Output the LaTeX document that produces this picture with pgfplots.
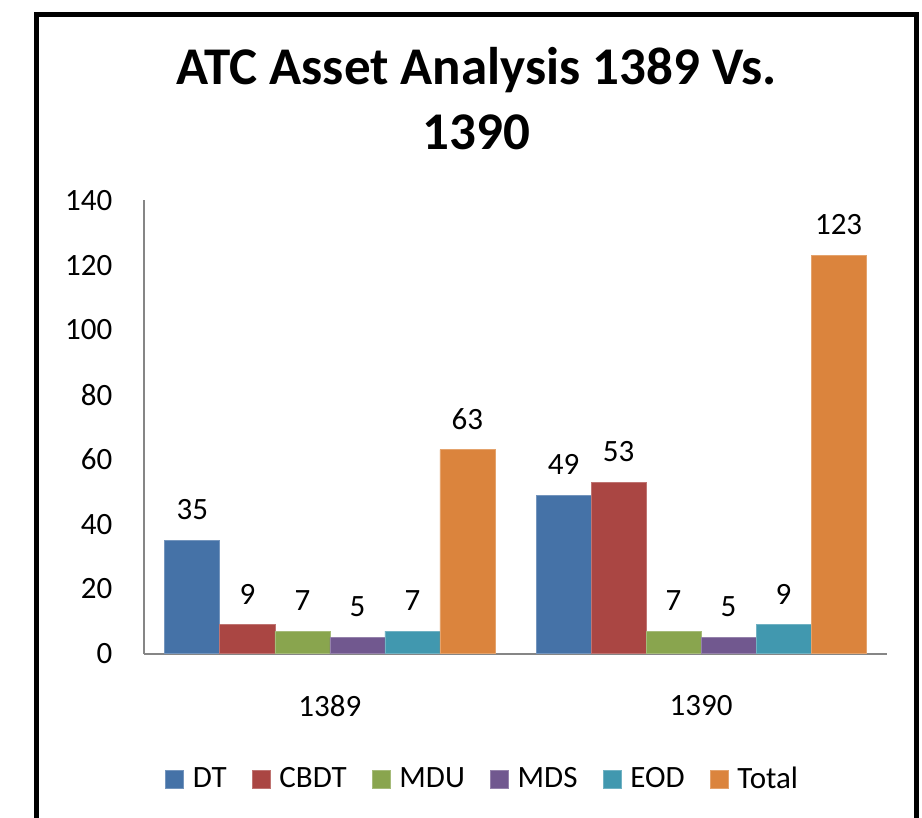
\documentclass[border=0pt]{standalone}
\usepackage{fontspec}
\setmainfont{Carlito}
\usepackage{pgfplots}
\pgfplotsset{compat=1.18}
\definecolor{cDT}{HTML}{4572A7}
\definecolor{cCBDT}{HTML}{AA4643}
\definecolor{cMDU}{HTML}{89A54E}
\definecolor{cMDS}{HTML}{71588F}
\definecolor{cEOD}{HTML}{4198AF}
\definecolor{cTot}{HTML}{DB843D}
\definecolor{axisgray}{RGB}{134,134,134}
\pgfplotsset{
  sqlegend/.style={legend image code/.code={\fill[##1] (0pt,-4.5pt) rectangle (9pt,4.5pt);}},
}
\begin{document}
\begin{tikzpicture}
\useasboundingbox (0,0) rectangle (461pt,-409pt);
\clip (0,0) rectangle (461pt,-409pt);
\draw[line width=2.5pt] (18pt,-420pt) -- (18pt,-7.5pt) -- (458pt,-7.5pt) -- (458pt,-420pt);
\node[font=\fontsize{26.5}{32}\selectfont\bfseries, anchor=base, inner sep=0pt] at (238.25pt,-42.5pt) {ATC Asset Analysis 1389 Vs.};
\node[font=\fontsize{26.5}{32}\selectfont\bfseries, anchor=base, inner sep=0pt] at (238.25pt,-75pt) {1390};
\begin{axis}[
  at={(72.15pt,-326.85pt)}, anchor=south west,
  scale only axis, width=371.2pt, height=226.65pt,
  ybar=0pt, bar width=27.5pt,
  xmin=-0.5, xmax=1.5, ymin=0, ymax=140,
  xtick={0,1}, xticklabels={1389,1390},
  ytick={0,20,...,140},
  axis x line*=bottom, axis y line*=left,
  axis line style={draw=axisgray, line width=1pt, -},
  major tick length=0pt,
  tick label style={font=\fontsize{15.5}{18}\selectfont},
  yticklabel style={anchor=east, inner sep=0pt, xshift=-15.8pt},
  xticklabel style={anchor=north, inner sep=0pt, yshift=-20.5pt},
  /pgf/number format/assume math mode=true,
  nodes near coords,
  every node near coord/.append style={font=\fontsize{15.5}{18}\selectfont, anchor=south, inner sep=0pt, yshift=10pt, text=black},
  legend columns=-1,
  legend style={draw=none, fill=none, at={(0.0279,-0.2764)}, anchor=west,
    inner sep=0pt, outer sep=0pt, font=\fontsize{15.5}{18}\selectfont,
    column sep=0pt,
    /tikz/every odd column/.append style={column sep=4.5pt},
    /tikz/every even column/.append style={column sep=12.5pt},
    nodes={inner sep=0pt}},
  clip=false,
]
\addplot[fill=cDT, draw=cDT!75!white, line width=0.4pt, sqlegend] coordinates {(0,35) (1,49)};
\addplot[fill=cCBDT, draw=cCBDT!75!white, line width=0.4pt, sqlegend] coordinates {(0,9) (1,53)};
\addplot[fill=cMDU, draw=cMDU!75!white, line width=0.4pt, sqlegend] coordinates {(0,7) (1,7)};
\addplot[fill=cMDS, draw=cMDS!75!white, line width=0.4pt, sqlegend] coordinates {(0,5) (1,5)};
\addplot[fill=cEOD, draw=cEOD!75!white, line width=0.4pt, sqlegend] coordinates {(0,7) (1,9)};
\addplot[fill=cTot, draw=cTot!75!white, line width=0.4pt, sqlegend] coordinates {(0,63) (1,123)};
\legend{DT,CBDT,MDU,MDS,EOD,Total}
\end{axis}
\end{tikzpicture}
\end{document}
